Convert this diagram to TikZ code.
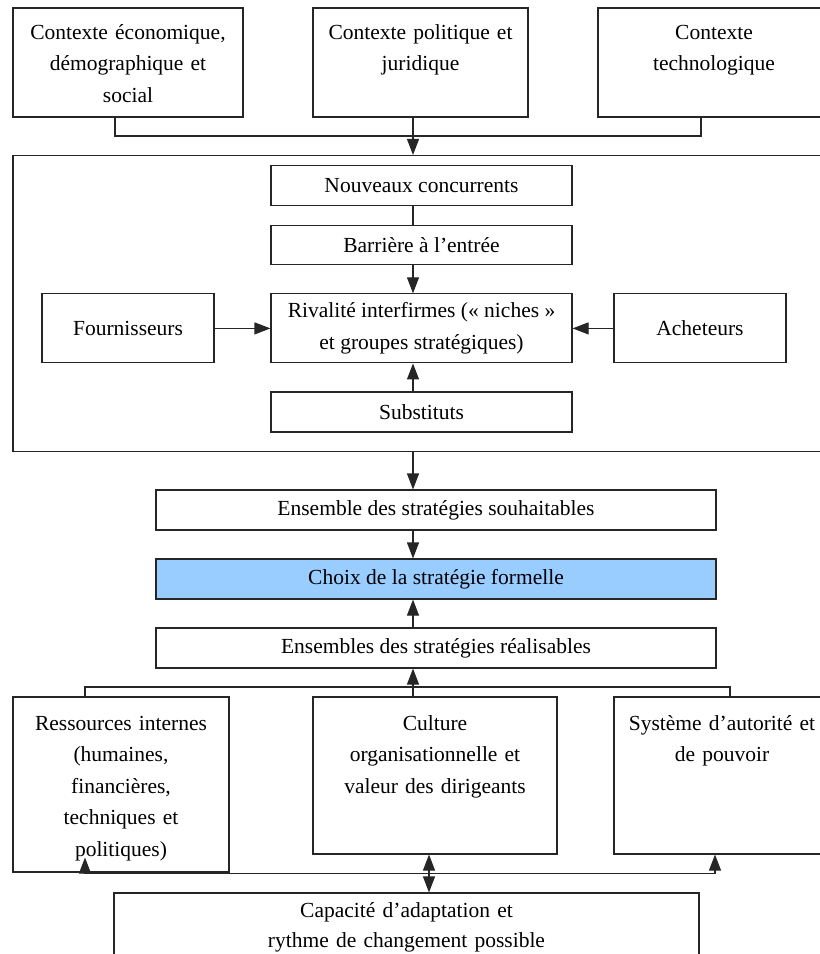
\documentclass[tikz,border=0pt]{standalone}
\usepackage{fontspec}
\setmainfont{Liberation Serif}
\usetikzlibrary{arrows.meta,calc}
\definecolor{choixblue}{HTML}{99CCFF}
\begin{document}
\begin{tikzpicture}[x=1pt,y=-1pt,
  box/.style={draw=black!85, line width=1.1pt, inner sep=0pt, fill=white,
    font=\fontsize{21.5}{31.5}\selectfont, align=center},
  lbl/.style={font=\fontsize{21.5}{31.5}\selectfont, align=center, inner sep=0pt, anchor=base},
  conn/.style={draw=black!85, line width=1.1pt},
  arr/.style={conn, -{Triangle[length=16pt,width=12pt]}},
  darr/.style={conn, {Triangle[length=16pt,width=12pt]}-{Triangle[length=16pt,width=12pt]}},
]
\useasboundingbox (0,0) rectangle (820,954);
\clip (0,0) rectangle (820,954);
\fill[white] (0,0) rectangle (820,954);

% axis coordinates
\coordinate (ax) at (413,0);
\coordinate (dx) at (429,0);
\coordinate (s1) at (115,136);
\coordinate (s3) at (701,136);
\coordinate (L1) at (85,687);
\coordinate (L2) at (730,687);
\coordinate (B1) at (85,873.5);
\coordinate (B2) at (715,873.5);

% top context boxes
\node[box, minimum width=230pt, minimum height=109pt] (c1) at (128,62.5) {};
\node[lbl, text width=222pt] (t1) at ($(c1.north)+(0,32)$) {Contexte économique,\\ démographique et\\ social};
\node[box, minimum width=215pt, minimum height=109pt] (c2) at (420.5,62.5) {};
\node[lbl, text width=207pt] (t2) at ($(c2.north)+(0,32)$) {Contexte politique et\\ juridique};
\node[box, minimum width=232pt, minimum height=109pt] (c3) at (714,62.5) {};
\node[lbl, text width=222pt] (t3) at ($(c3.north)+(0,32)$) {Contexte\\ technologique};

% big box (competitive environment)
\node[box, minimum width=817pt, minimum height=296pt] (big) at (421.5,303.5) {};
\node[box, minimum width=301pt, minimum height=40pt] (nc) at (421.5,185.8) {Nouveaux concurrents};
\node[box, minimum width=301pt, minimum height=39pt] (barr) at (421.5,244.7) {Barrière à l’entrée};
\node[box, minimum width=301pt, minimum height=69pt] (riv) at (421.5,328.4) {Rivalité interfirmes («~niches~»\\ et groupes stratégiques)};
\node[box, minimum width=172pt, minimum height=69pt] (four) at (128,328.4) {Fournisseurs};
\node[box, minimum width=172pt, minimum height=69pt] (ach) at (700,328.4) {Acheteurs};
\node[box, minimum width=301pt, minimum height=40pt] (subs) at (421.5,412) {Substituts};

% strategy boxes
\node[box, minimum width=560pt, minimum height=40pt] (souh) at (436,510) {Ensemble des stratégies souhaitables};
\node[box, fill=choixblue, minimum width=560pt, minimum height=40pt] (choix) at (436,579) {Choix de la stratégie formelle};
\node[box, minimum width=560pt, minimum height=40pt] (real) at (436,648) {Ensembles des stratégies réalisables};

% internal factor boxes
\node[box, minimum width=216pt, minimum height=175pt] (res) at (121,784.5) {};
\node[lbl, text width=206pt] (tres) at ($(res.north)+(0,34)$) {Ressources internes\\ (humaines,\\ financières,\\ techniques et\\ politiques)};
\node[box, minimum width=244pt, minimum height=157pt] (cul) at (435,775.5) {};
\node[lbl, text width=234pt] (tcul) at ($(cul.north)+(0,34)$) {Culture\\ organisationnelle et\\ valeur des dirigeants};
\node[box, minimum width=216pt, minimum height=157pt] (sys) at (722,775.5) {};
\node[lbl, text width=206pt] (tsys) at ($(sys.north)+(0,34)$) {Système d’autorité et\\ de pouvoir};
\node[box, minimum width=585pt, minimum height=97pt] (cap) at (406.5,941.5) {};
\node[lbl, text width=570pt, font=\fontsize{21.5}{30}\selectfont] (tcap) at ($(cap.north)+(0,25)$) {Capacité d’adaptation et\\ rythme de changement possible};

% connectors: top
\draw[conn] (c1.south -| s1) -- (s1) -- (s3) -- (c3.south -| s3);
\draw[arr] (c2.south -| ax) -- (big.north -| ax);

% connectors: inside big box
\draw[conn] (nc.south -| ax) -- (barr.north -| ax);
\draw[arr] (barr.south -| ax) -- (riv.north -| ax);
\draw[arr] (four.east) -- (riv.west);
\draw[arr] (ach.west) -- (riv.east);
\draw[arr] (subs.north -| ax) -- (riv.south -| ax);

% connectors: strategies
\draw[arr] (big.south -| ax) -- (souh.north -| ax);
\draw[arr] (souh.south -| ax) -- (choix.north -| ax);
\draw[arr] (real.north -| ax) -- (choix.south -| ax);

% connectors: internal factors
\draw[conn] (res.north -| L1) -- (L1) -- (L2) -- (sys.north -| L2);
\draw[arr] (cul.north -| ax) -- (real.south -| ax);
\draw[conn] (B1) -- (B2);
\draw[arr] (B1) -- ($(res.south -| B1)+(0,-15)$);
\draw[arr] (B2) -- (sys.south -| B2);
\draw[darr] (cul.south -| dx) -- (cap.north -| dx);
\end{tikzpicture}
\end{document}
